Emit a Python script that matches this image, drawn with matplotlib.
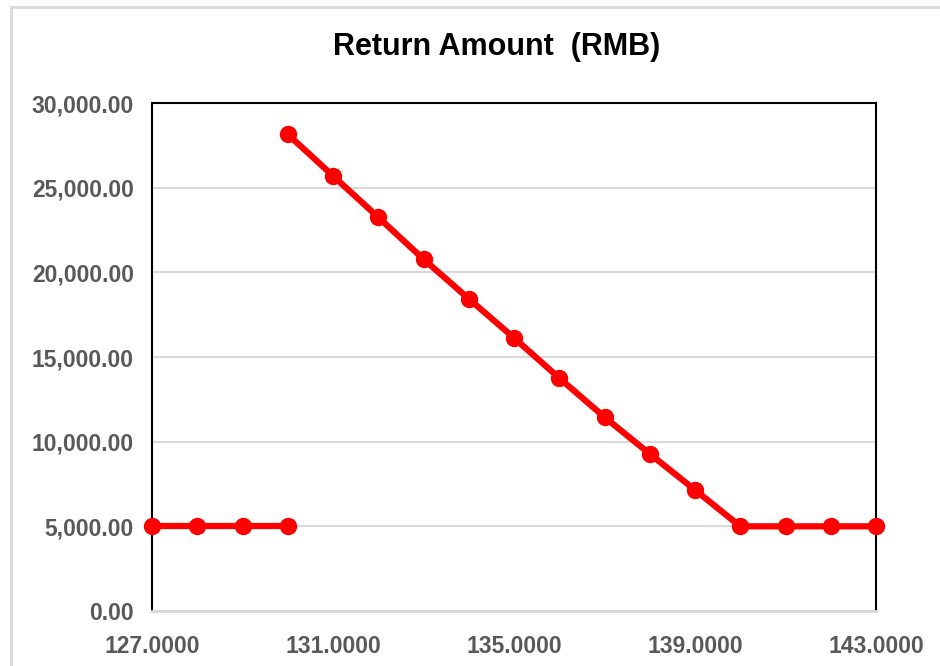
import matplotlib
matplotlib.use("Agg")
import matplotlib.pyplot as plt
from matplotlib.patches import Rectangle
from matplotlib.ticker import FuncFormatter

# data
x_low = [127, 128, 129, 130]
y_low = [5000, 5000, 5000, 5000]
x_high = [130, 131, 132, 133, 134, 135, 136, 137, 138, 139, 140, 141, 142, 143]
y_high = [28150, 25700, 23250, 20780, 18440, 16130, 13760, 11450, 9280, 7150,
          5000, 5000, 5000, 5000]
x_ticks = [127, 131, 135, 139, 143]
y_ticks = [0, 5000, 10000, 15000, 20000, 25000, 30000]
title = "Return Amount  (RMB)"

plt.rcParams['font.family'] = ['Liberation Sans', 'DejaVu Sans']

fig = plt.figure(figsize=(9.4, 6.66), dpi=100)
ax = fig.add_axes([152 / 940, 55 / 666, 724 / 940, 508 / 666])

# outer chart border (light grey, runs off the right and bottom edges)
fig.patches.append(Rectangle((11 / 940, -0.1), 1.0, 1.1 - 7 / 666,
                             transform=fig.transFigure, fill=False,
                             edgecolor='#D9D9D9', lw=2))

red = '#FF0000'
for xs, ys in [(x_low, y_low), (x_high, y_high)]:
    ax.plot(xs, ys, color=red, lw=4.5, marker='o', markersize=11.5,
            solid_capstyle='round', clip_on=False, zorder=3)

ax.set_xlim(127, 143)
ax.set_ylim(0, 30000)
ax.set_xticks(x_ticks)
ax.set_yticks(y_ticks)
ax.xaxis.set_major_formatter(FuncFormatter(lambda v, p: f"{v:.4f}"))
ax.yaxis.set_major_formatter(FuncFormatter(lambda v, p: f"{v:,.2f}"))

ax.grid(axis='y', color='#D9D9D9', lw=1.5)
ax.set_axisbelow(True)
for side in ['left', 'top', 'right']:
    ax.spines[side].set_color('black')
    ax.spines[side].set_linewidth(1.5)
ax.spines['bottom'].set_color('#D9D9D9')
ax.spines['bottom'].set_linewidth(2)

ax.tick_params(axis='both', length=0, labelcolor='#595959', labelsize=16.5)
ax.tick_params(axis='y', pad=13)
ax.tick_params(axis='x', pad=17)
for lbl in ax.get_xticklabels() + ax.get_yticklabels():
    lbl.set_fontweight('bold')

fig.text(497 / 940, 1 - 47 / 666, title, ha='center', va='center',
         fontsize=22, fontweight='bold', color='black')

fig.savefig('out.png', dpi=100)
